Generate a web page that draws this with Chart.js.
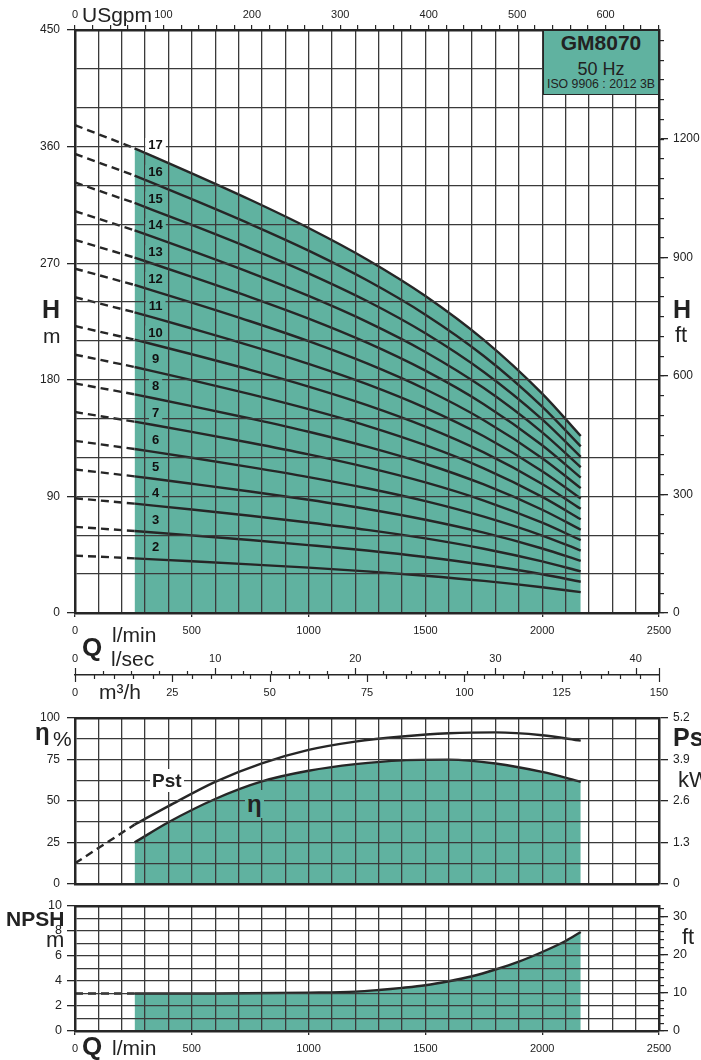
<!DOCTYPE html>
<html>
<head>
<meta charset="utf-8">
<script src="https://cdn.jsdelivr.net/npm/chart.js@4.4.1/dist/chart.umd.min.js"></script>
<style>
  body { margin: 0; background: #fff; }
  #page { position: relative; width: 701px; height: 1060px; overflow: hidden;
          font-family: "Liberation Sans", Arial, sans-serif; color: #222; }
  canvas { position: absolute; left: 0; }
  .t { position: absolute; line-height: 1; white-space: nowrap; }
  #box { position: absolute; left: 543px; top: 30px; width: 114px; height: 63px;
         background: #60b2a0; border: 1.5px solid #262626; }
</style>
</head>
<body>
<div id="page">
  <canvas id="head" width="701" height="700" style="top:0"></canvas>
  <canvas id="eff" width="701" height="195" style="top:700px"></canvas>
  <canvas id="npsh" width="701" height="165" style="top:895px"></canvas>
  <div id="box"></div>
</div>
<script>
// ---- data ----
// head curves, H in m at these flows (l/min); first segment (0-255) is dashed
const flowHead = [0, 255, 500, 750, 1000, 1250, 1500, 1750, 2000, 2165];
const stageNumbers = [2, 3, 4, 5, 6, 7, 8, 9, 10, 11, 12, 13, 14, 15, 16, 17];
const head2  = [44.3, 42.2, 39.9, 37.5, 35.0, 32.1, 28.8, 24.8, 19.9, 16.1];
const head3  = [66.5, 63.3, 59.9, 56.3, 52.4, 48.2, 43.2, 37.2, 29.9, 24.1];
const head4  = [88.6, 84.4, 79.9, 75.1, 69.9, 64.2, 57.6, 49.6, 39.8, 32.1];
const head5  = [110.8, 105.5, 99.8, 93.8, 87.4, 80.3, 72.0, 62.0, 49.8, 40.2];
const head6  = [132.9, 126.6, 119.8, 112.6, 104.9, 96.3, 86.4, 74.4, 59.8, 48.2];
const head7  = [155.1, 147.7, 139.8, 131.4, 122.4, 112.4, 100.8, 86.8, 69.7, 56.2];
const head8  = [177.2, 168.8, 159.7, 150.1, 139.9, 128.4, 115.2, 99.2, 79.7, 64.3];
const head9  = [199.4, 189.9, 179.7, 168.9, 157.3, 144.5, 129.5, 111.6, 89.6, 72.3];
const head10 = [221.5, 211.0, 199.7, 187.7, 174.8, 160.5, 143.9, 124.0, 99.6, 80.4];
const head11 = [243.7, 232.1, 219.6, 206.4, 192.3, 176.6, 158.3, 136.4, 109.5, 88.4];
const head12 = [265.8, 253.2, 239.6, 225.2, 209.8, 192.6, 172.7, 148.8, 119.5, 96.4];
const head13 = [288.0, 274.3, 259.5, 243.9, 227.3, 208.7, 187.1, 161.2, 129.5, 104.5];
const head14 = [310.1, 295.4, 279.5, 262.7, 244.7, 224.7, 201.5, 173.6, 139.4, 112.5];
const head15 = [332.3, 316.5, 299.5, 281.5, 262.2, 240.8, 215.9, 186.0, 149.4, 120.5];
const head16 = [354.4, 337.6, 319.4, 300.2, 279.7, 256.8, 230.3, 198.4, 159.3, 128.6];
const head17 = [376.6, 358.7, 339.4, 319.0, 297.2, 272.9, 244.7, 210.8, 169.3, 136.6];
const stageHeads = [head2, head3, head4, head5, head6, head7, head8, head9,
                    head10, head11, head12, head13, head14, head15, head16, head17];

// efficiency (%) and shaft power Pst (kW)
const flowEff = [255, 400, 600, 800, 1000, 1200, 1400, 1600, 1800, 2000, 2165];
const efficiency = [25, 37.2, 51.2, 61.8, 68.2, 72.2, 74.5, 74.9, 72.6, 67.5, 61.6];
const flowPowerDash = [0, 255];
const powerDash = [0.65, 1.86];
const flowPower = [255, 400, 600, 800, 1000, 1200, 1400, 1600, 1800, 2000, 2165];
const powerKw = [1.86, 2.44, 3.2, 3.78, 4.2, 4.46, 4.62, 4.72, 4.75, 4.66, 4.49];

// NPSH (m)
const flowNpshDash = [0, 255];
const npshDash = [3.0, 3.0];
const flowNpsh = [255, 600, 1000, 1200, 1300, 1400, 1500, 1600, 1700, 1800, 1900, 2000, 2100, 2165];
const npsh = [3.0, 3.0, 3.07, 3.15, 3.28, 3.45, 3.66, 3.98, 4.38, 4.92, 5.55, 6.32, 7.2, 7.92];

// labelled ticks of the feet axes
const headFtTicks = [0, 300, 600, 900, 1200];
const npshFtTicks = [0, 10, 20, 30];

// ---- styling ----
const TEAL = '#60b2a0';
const INK = '#262626';
const GRID = '#3a3a3a';
const SANS = '"Liberation Sans", Arial, sans-serif';
const NARROW = '"Liberation Sans Narrow", "Liberation Sans", Arial, sans-serif';

Chart.defaults.font.family = SANS;
Chart.defaults.color = '#222';
Chart.defaults.animation = false;

function pts(xs, ys) {
    return xs.map((x, i) => ({ x: x, y: ys[i] }));
}

function curve(data, extra) {
    return Object.assign({
        data: data, borderColor: INK, borderWidth: 2.4, pointRadius: 0,
        fill: false, cubicInterpolationMode: 'monotone'
    }, extra || {});
}

const fitW = w => s => { s.width = w; s.paddingTop = 0; s.paddingBottom = 0; };
const fitH = h => s => { s.height = h; s.paddingLeft = 0; s.paddingRight = 0; };
const useTicks = list => s => { s.ticks = list.map(v => ({ value: v })); };
const every = (n, c) => v => (Math.abs(v % n) < 1e-6 ? c(v) : '');
const frame = { color: INK, width: 2.5, z: 2 };
const dashed = { borderDash: [8, 5], cubicInterpolationMode: 'default', tension: 0 };

const basePlugins = {
    legend: { display: false },
    tooltip: { enabled: false },
    filler: { drawTime: 'beforeDatasetsDraw' }
};

// flow axis with grid every 100 l/min
function flowAxis(height, withLabels, extra) {
    return Object.assign({
        type: 'linear', position: 'bottom', min: 0, max: 2500, afterFit: fitH(height),
        grid: {
            z: 1, color: GRID, lineWidth: 1.3, drawTicks: withLabels, tickLength: 4,
            tickColor: c => (c.tick && c.tick.value % 500 === 0 ? INK : 'rgba(0,0,0,0)')
        },
        border: frame,
        ticks: {
            stepSize: 100, autoSkip: false, maxRotation: 0, padding: 7, display: withLabels,
            font: { family: NARROW, size: 11 }, callback: every(500, v => v)
        }
    }, extra || {});
}

function plainTop(height) {
    return {
        type: 'linear', position: 'top', min: 0, max: 2500, afterFit: fitH(height),
        grid: { drawOnChartArea: false, drawTicks: false }, border: frame,
        ticks: { display: false }
    };
}

// ---- plugins ----
const stageLabels = {
    id: 'stageLabels',
    afterDraw(chart) {
        const { ctx } = chart;
        const x = chart.scales.x, y = chart.scales.y;
        const q = 345;
        const f = (q - flowHead[1]) / (flowHead[2] - flowHead[1]);
        ctx.save();
        ctx.font = 'bold 13px ' + SANS;
        ctx.textAlign = 'center';
        ctx.textBaseline = 'middle';
        stageHeads.forEach((h, i) => {
            const n = stageNumbers[i];
            const hq = h[1] + (h[2] - h[1]) * f;
            const px = x.getPixelForValue(q);
            const py = y.getPixelForValue(hq) - 12.5;
            const w = ctx.measureText(String(n)).width + 6;
            ctx.fillStyle = n === 17 ? '#fff' : TEAL;
            ctx.fillRect(px - w / 2, py - 7, w, 14);
            ctx.fillStyle = '#111';
            ctx.fillText(String(n), px, py + 0.5);
        });
        ctx.restore();
    }
};

const unitTicks = {
    id: 'unitTicks',
    afterDraw(chart) {
        const xs = chart.scales.xs, xm = chart.scales.xm;
        if (!xs || !xm) return;
        const { ctx } = chart;
        const base = Math.round(xm.top);
        ctx.save();
        ctx.strokeStyle = INK;
        ctx.lineWidth = 1.2;
        ctx.beginPath();
        xs.ticks.forEach(t => {
            const px = Math.round(xs.getPixelForValue(t.value)) + 0.5;
            const len = t.value % 10 === 0 ? 7 : 4;
            ctx.moveTo(px, base); ctx.lineTo(px, base - len);
        });
        xm.ticks.forEach(t => {
            const px = Math.round(xm.getPixelForValue(t.value)) + 0.5;
            const len = t.value % 25 === 0 ? 7 : 4;
            ctx.moveTo(px, base); ctx.lineTo(px, base + len);
            if (t.value === 150) { ctx.moveTo(px, base); ctx.lineTo(px, base - 7); }
        });
        ctx.stroke();
        ctx.restore();
    }
};

// ---- chart 1: head ----
const headSets = [];
stageHeads.forEach((h, i) => {
    headSets.push(curve(pts(flowHead.slice(0, 2), h.slice(0, 2)), dashed));
    headSets.push(curve(pts(flowHead.slice(1), h.slice(1)),
        stageNumbers[i] === 17 ? { fill: 'origin', backgroundColor: TEAL } : {}));
});

new Chart(document.getElementById('head'), {
    type: 'line',
    data: { datasets: headSets },
    options: {
        responsive: false, animation: false, layout: { padding: 0 },
        plugins: basePlugins,
        scales: {
            x: flowAxis(28, true, { weight: 0 }),
            xs: {
                type: 'linear', position: 'bottom', weight: 1, min: 0, max: 2500 / 60,
                afterFit: fitH(34),
                grid: { display: false, drawTicks: false }, border: { display: false },
                ticks: { stepSize: 2, includeBounds: false, autoSkip: false, maxRotation: 0,
                         padding: 11, font: { family: NARROW, size: 11 }, callback: every(10, v => v) }
            },
            xm: {
                type: 'linear', position: 'bottom', weight: 2, min: 0, max: 150,
                afterFit: fitH(25),
                grid: { display: false, drawTicks: false }, border: { color: INK, width: 1.4 },
                ticks: { stepSize: 5, autoSkip: false, maxRotation: 0, padding: 11,
                         font: { family: NARROW, size: 11 }, callback: every(25, v => v) }
            },
            xTop: {
                type: 'linear', position: 'top', min: 0, max: 2500 / 3.785411784,
                afterFit: fitH(30),
                grid: { drawOnChartArea: false, tickLength: 5, color: INK, lineWidth: 1.2 },
                border: frame,
                ticks: { stepSize: 20, includeBounds: false, autoSkip: false, maxRotation: 0,
                         padding: 3, font: { size: 11 }, callback: every(100, v => v) }
            },
            y: {
                type: 'linear', position: 'left', min: 0, max: 450, afterFit: fitW(75),
                grid: { z: 1, color: GRID, lineWidth: 1.3, tickLength: 8,
                        tickColor: c => (c.tick && c.tick.value % 90 === 0 ? INK : 'rgba(0,0,0,0)') },
                border: frame,
                ticks: { stepSize: 30, autoSkip: false, padding: 7, font: { size: 12 },
                         callback: every(90, v => v) }
            },
            yftMinor: {
                type: 'linear', position: 'right', weight: 0, min: 0, max: 450 / 0.3048,
                afterFit: fitW(0),
                grid: { drawOnChartArea: false, tickLength: 5, color: INK, lineWidth: 1.2 },
                border: { display: false },
                ticks: { display: false, stepSize: 50, includeBounds: false }
            },
            yft: {
                type: 'linear', position: 'right', weight: 1, min: 0, max: 450 / 0.3048,
                afterFit: fitW(42), afterBuildTicks: useTicks(headFtTicks),
                grid: { drawOnChartArea: false, tickLength: 9, color: INK, lineWidth: 1.3 },
                border: frame,
                ticks: { autoSkip: false, padding: 5, font: { size: 12 }, callback: v => String(v) }
            }
        }
    },
    plugins: [stageLabels, unitTicks]
});

// ---- chart 2: efficiency and power ----
new Chart(document.getElementById('eff'), {
    type: 'line',
    data: {
        datasets: [
            curve(pts(flowPowerDash, powerDash), Object.assign({ yAxisID: 'kw' }, dashed)),
            curve(pts(flowPower, powerKw), { yAxisID: 'kw' }),
            curve(pts(flowEff, efficiency), { yAxisID: 'y', fill: 'origin', backgroundColor: TEAL })
        ]
    },
    options: {
        responsive: false, animation: false, layout: { padding: 0 },
        plugins: basePlugins,
        scales: {
            x: flowAxis(11, false),
            xTop: plainTop(18),
            y: {
                type: 'linear', position: 'left', min: 0, max: 100, afterFit: fitW(75),
                grid: { z: 1, color: GRID, lineWidth: 1.3, tickLength: 8,
                        tickColor: c => (c.tick && c.tick.value % 25 === 0 ? INK : 'rgba(0,0,0,0)') },
                border: frame,
                ticks: { stepSize: 12.5, autoSkip: false, padding: 7, font: { size: 12 },
                         callback: every(25, v => v) }
            },
            kw: {
                type: 'linear', position: 'right', min: 0, max: 5.2, afterFit: fitW(42),
                grid: { drawOnChartArea: false, tickLength: 9, color: INK, lineWidth: 1.3 },
                border: frame,
                ticks: { stepSize: 1.3, autoSkip: false, padding: 5, font: { size: 12 },
                         callback: v => (v === 0 ? '0' : v.toFixed(1)) }
            }
        }
    }
});

// ---- chart 3: NPSH ----
new Chart(document.getElementById('npsh'), {
    type: 'line',
    data: {
        datasets: [
            curve(pts(flowNpshDash, npshDash), dashed),
            curve(pts(flowNpsh, npsh), { fill: 'origin', backgroundColor: TEAL })
        ]
    },
    options: {
        responsive: false, animation: false, layout: { padding: 0 },
        plugins: basePlugins,
        scales: {
            x: flowAxis(29, true),
            xTop: plainTop(11),
            y: {
                type: 'linear', position: 'left', min: 0, max: 10, afterFit: fitW(75),
                grid: { z: 1, color: GRID, lineWidth: 1.3, tickLength: 8,
                        tickColor: c => (c.tick && c.tick.value % 2 === 0 ? INK : 'rgba(0,0,0,0)') },
                border: frame,
                ticks: { stepSize: 1, autoSkip: false, padding: 5, font: { size: 12.5 },
                         callback: every(2, v => v) }
            },
            ftMinor: {
                type: 'linear', position: 'right', weight: 0, min: 0, max: 10 / 0.3048,
                afterFit: fitW(0),
                grid: { drawOnChartArea: false, tickLength: 5, color: INK, lineWidth: 1.2 },
                border: { display: false },
                ticks: { display: false, stepSize: 2, includeBounds: false }
            },
            ft: {
                type: 'linear', position: 'right', weight: 1, min: 0, max: 10 / 0.3048,
                afterFit: fitW(42), afterBuildTicks: useTicks(npshFtTicks),
                grid: { drawOnChartArea: false, tickLength: 9, color: INK, lineWidth: 1.3 },
                border: frame,
                ticks: { autoSkip: false, padding: 5, font: { size: 12.5 }, callback: v => String(v) }
            }
        }
    }
});

// ---- text labels ----
const page = document.getElementById('page');
function addText(txt, left, baseline, size, opts) {
    opts = opts || {};
    const pad = opts.bg ? 2 : 0;
    const d = document.createElement('div');
    d.className = 't';
    d.textContent = txt;
    d.style.fontSize = size + 'px';
    d.style.left = (left - pad) + 'px';
    d.style.top = (baseline - 0.847 * size - pad) + 'px';
    if (opts.bold) d.style.fontWeight = 'bold';
    if (opts.center) d.style.transform = 'translateX(-50%)';
    if (opts.bg) { d.style.background = opts.bg; d.style.padding = pad + 'px'; }
    page.appendChild(d);
}

addText('USgpm', 82, 22, 21);
addText('H', 42, 318, 25, { bold: true });
addText('m', 43, 343, 21);
addText('H', 673, 318, 25, { bold: true });
addText('ft', 675, 343, 22);
addText('Q', 82, 656, 26, { bold: true });
addText('l/min', 112, 642, 21);
addText('l/sec', 111, 666, 21);
addText('m³/h', 99, 699, 21);

addText('GM8070', 601, 50, 21, { bold: true, center: true });
addText('50 Hz', 601, 75, 18, { center: true });
addText('ISO 9906 : 2012 3B', 601, 88, 12.3, { center: true });

addText('η', 35, 740, 24, { bold: true });
addText('%', 53, 746, 21);
addText('Pst', 152, 787, 19, { bold: true, bg: '#fff' });
addText('η', 247, 812, 24, { bold: true, bg: TEAL });
addText('Ps', 673, 746, 25, { bold: true });
addText('kW', 678, 788, 22);

addText('NPSH', 6, 926, 21, { bold: true });
addText('m', 46, 948, 22);
addText('ft', 682, 945, 22);
addText('Q', 82, 1055, 26, { bold: true });
addText('l/min', 112, 1055, 21);
</script>
</body>
</html>
